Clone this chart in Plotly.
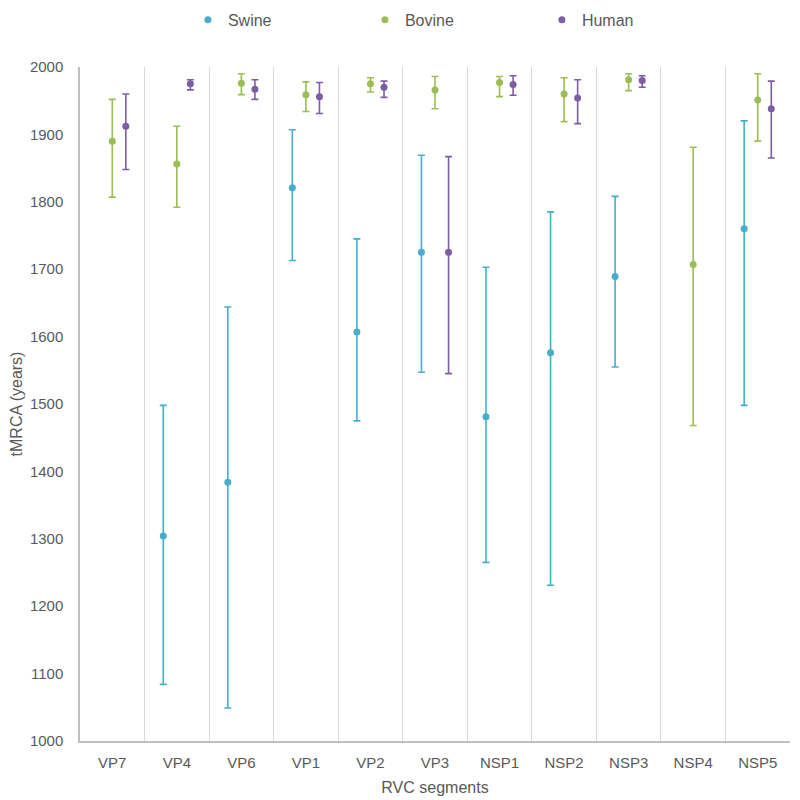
import plotly.graph_objects as go

segments = ["VP7", "VP4", "VP6", "VP1", "VP2", "VP3", "NSP1", "NSP2", "NSP3", "NSP4", "NSP5"]

swine = [None, 1304, 1384, 1821, 1607, 1725, 1481, 1576, 1689, None, 1760]
swine_hi = [None, 1498, 1644, 1907, 1745, 1869, 1703, 1785, 1808, None, 1920]
swine_lo = [None, 1084, 1049, 1713, 1475, 1547, 1265, 1231, 1555, None, 1498]

bovine = [1890, 1856, 1976, 1959, 1975, 1966, 1977, 1960, 1981, 1707, 1951]
bovine_hi = [1952, 1912, 1990, 1978, 1984, 1986, 1986, 1984, 1990, 1881, 1990]
bovine_lo = [1807, 1792, 1959, 1934, 1963, 1938, 1956, 1919, 1965, 1468, 1890]

human = [1912, 1975, 1967, 1956, 1970, 1725, 1974, 1954, 1980, None, 1938]
human_hi = [1960, 1981, 1981, 1977, 1979, 1867, 1987, 1981, 1987, None, 1979]
human_lo = [1848, 1966, 1952, 1931, 1955, 1545, 1958, 1916, 1970, None, 1865]

series = [
    ("Swine", swine, swine_hi, swine_lo, "#45AECB"),
    ("Bovine", bovine, bovine_hi, bovine_lo, "#9BBD55"),
    ("Human", human, human_hi, human_lo, "#7E5DA6"),
]

fig = go.Figure()
for name, v, hi, lo, col in series:
    plus = [None if a is None else h - a for a, h in zip(v, hi)]
    minus = [None if a is None else a - l for a, l in zip(v, lo)]
    fig.add_trace(go.Scatter(
        x=segments, y=v, name=name, mode="markers",
        marker=dict(color=col, size=7),
        error_y=dict(type="data", symmetric=False, array=plus, arrayminus=minus,
                     color=col, thickness=1.6, width=3.5),
    ))

font_family = "Liberation Sans, Arial, sans-serif"
fig.update_layout(
    width=800, height=800,
    paper_bgcolor="white", plot_bgcolor="white",
    margin=dict(l=72, r=18, t=59, b=67, autoexpand=False),
    scattermode="group", scattergap=0.37,
    font=dict(family=font_family, size=15, color="#595959"),
    showlegend=True,
    legend=dict(orientation="h", x=0.152, xanchor="left", y=1.07, yanchor="middle",
                entrywidth=132, font=dict(size=16, color="#595959")),
    xaxis=dict(
        type="category", tickson="boundaries", showgrid=True, gridcolor="#D9D9D9", gridwidth=1,
        showline=True, linecolor="#BFBFBF", linewidth=1.5, ticks="",
        ticklabelstandoff=7,
        title=dict(text="RVC segments", font=dict(size=16), standoff=12),
        tickfont=dict(size=15),
    ),
    yaxis=dict(
        range=[1000, 2000], dtick=100, showgrid=False, zeroline=False,
        showline=True, linecolor="#BFBFBF", linewidth=1.5, ticks="",
        ticklabelstandoff=12,
        title=dict(text="tMRCA (years)", font=dict(size=16), standoff=4),
        tickfont=dict(size=15),
    ),
)

fig.write_html("out.html")
